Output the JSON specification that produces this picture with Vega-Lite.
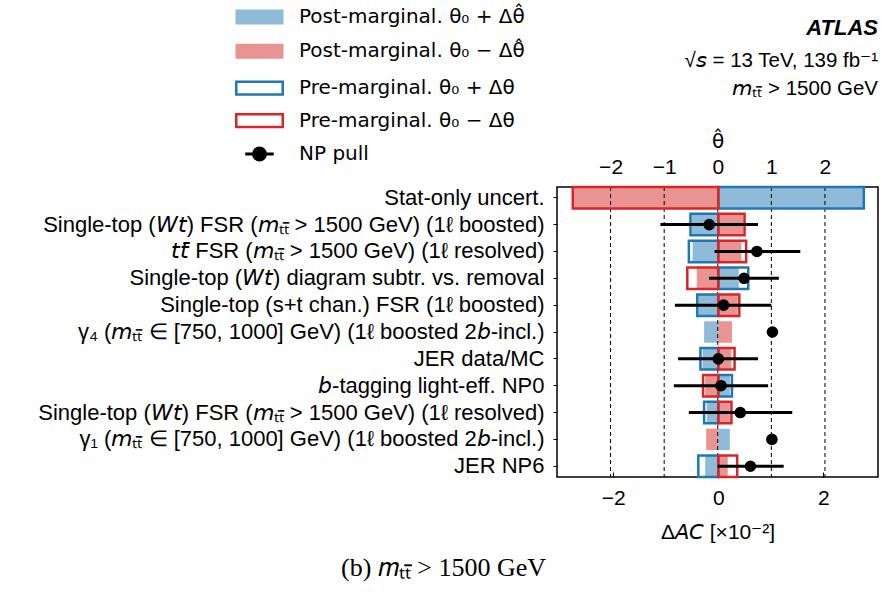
{
  "$schema": "https://vega.github.io/schema/vega-lite/v6.json",
  "autosize": {"type": "none"},
  "padding": {"left": 557, "top": 187, "right": 4, "bottom": 124},
  "width": 321,
  "height": 290,
  "config": {
    "font": "Liberation Sans",
    "view": {"stroke": "black", "strokeWidth": 1.5},
    "axis": {"labelColor": "black", "titleColor": "black", "tickColor": "black", "titleFontWeight": "normal", "grid": false, "domain": false},
    "legend": {"labelColor": "black", "labelFont": "DejaVu Sans", "labelFontSize": 20, "labelLimit": 500, "padding": 0, "title": null}
  },
  "title": {
    "text": "ATLAS",
    "subtitle": ["√\ud835\ude34 = 13 TeV, 139 fb⁻¹", "\ud835\ude2eₜₜ\u0304 > 1500 GeV"],
    "anchor": "end",
    "frame": "group",
    "fontSize": 22,
    "fontStyle": "italic",
    "fontWeight": "bold",
    "color": "black",
    "subtitleFontSize": 20.5,
    "subtitleColor": "black",
    "subtitleLineHeight": 28,
    "subtitlePadding": 11,
    "offset": -93
  },
  "data": {
    "values": [
      {"label": "Stat-only uncert.", "post_up": 2.77, "post_dn": -2.77, "pre_up": 2.77, "pre_dn": -2.77, "pull": null, "lo": null, "hi": null},
      {"label": "Single-top (\ud835\ude1e\ud835\ude35) FSR (\ud835\ude2eₜₜ\u0304 > 1500 GeV) (1ℓ boosted)", "post_up": -0.51, "post_dn": 0.48, "pre_up": -0.53, "pre_dn": 0.5, "pull": -0.16, "lo": -1.07, "hi": 0.75},
      {"label": "\ud835\ude35\ud835\ude35\u0304 FSR (\ud835\ude2eₜₜ\u0304 > 1500 GeV) (1ℓ resolved)", "post_up": -0.49, "post_dn": 0.44, "pre_up": -0.56, "pre_dn": 0.53, "pull": 0.73, "lo": -0.06, "hi": 1.54},
      {"label": "Single-top (\ud835\ude1e\ud835\ude35) diagram subtr. vs. removal", "post_up": 0.39, "post_dn": -0.41, "pre_up": 0.57, "pre_dn": -0.59, "pull": 0.49, "lo": -0.16, "hi": 1.14},
      {"label": "Single-top (s+t chan.) FSR (1ℓ boosted)", "post_up": -0.38, "post_dn": 0.37, "pre_up": -0.4, "pre_dn": 0.4, "pull": 0.11, "lo": -0.8, "hi": 1.0},
      {"label": "γ₄ (\ud835\ude2eₜₜ\u0304 ∈ [750, 1000] GeV) (1ℓ boosted 2\ud835\ude23-incl.)", "post_up": -0.27, "post_dn": 0.26, "pre_up": null, "pre_dn": null, "pull": 1.02, "lo": null, "hi": null},
      {"label": "JER data/MC", "post_up": -0.3, "post_dn": 0.25, "pre_up": -0.34, "pre_dn": 0.31, "pull": 0.01, "lo": -0.74, "hi": 0.75},
      {"label": "\ud835\ude23-tagging light-eff. NP0", "post_up": 0.22, "post_dn": -0.25, "pre_up": 0.26, "pre_dn": -0.29, "pull": 0.06, "lo": -0.82, "hi": 0.94},
      {"label": "Single-top (\ud835\ude1e\ud835\ude35) FSR (\ud835\ude2eₜₜ\u0304 > 1500 GeV) (1ℓ resolved)", "post_up": -0.22, "post_dn": 0.22, "pre_up": -0.27, "pre_dn": 0.25, "pull": 0.42, "lo": -0.54, "hi": 1.39},
      {"label": "γ₁ (\ud835\ude2eₜₜ\u0304 ∈ [750, 1000] GeV) (1ℓ boosted 2\ud835\ude23-incl.)", "post_up": 0.22, "post_dn": -0.23, "pre_up": null, "pre_dn": null, "pull": 1.01, "lo": null, "hi": null},
      {"label": "JER NP6", "post_up": -0.25, "post_dn": 0.18, "pre_up": -0.38, "pre_dn": 0.36, "pull": 0.61, "lo": 0.0, "hi": 1.23}
    ]
  },
  "encoding": {
    "y": {
      "field": "label",
      "type": "nominal",
      "scale": {
        "domain": [
          "Stat-only uncert.",
          "Single-top (\ud835\ude1e\ud835\ude35) FSR (\ud835\ude2eₜₜ\u0304 > 1500 GeV) (1ℓ boosted)",
          "\ud835\ude35\ud835\ude35\u0304 FSR (\ud835\ude2eₜₜ\u0304 > 1500 GeV) (1ℓ resolved)",
          "Single-top (\ud835\ude1e\ud835\ude35) diagram subtr. vs. removal",
          "Single-top (s+t chan.) FSR (1ℓ boosted)",
          "γ₄ (\ud835\ude2eₜₜ\u0304 ∈ [750, 1000] GeV) (1ℓ boosted 2\ud835\ude23-incl.)",
          "JER data/MC",
          "\ud835\ude23-tagging light-eff. NP0",
          "Single-top (\ud835\ude1e\ud835\ude35) FSR (\ud835\ude2eₜₜ\u0304 > 1500 GeV) (1ℓ resolved)",
          "γ₁ (\ud835\ude2eₜₜ\u0304 ∈ [750, 1000] GeV) (1ℓ boosted 2\ud835\ude23-incl.)",
          "JER NP6"
        ],
        "paddingInner": 0.2,
        "paddingOuter": 0
      },
      "axis": {
        "title": "(b) \ud835\udc5aₜₜ\u0304 > 1500 GeV",
        "titleAngle": 0,
        "titleX": -114,
        "titleY": 380,
        "titleAlign": "center",
        "titleBaseline": "middle",
        "titleFont": "Liberation Serif",
        "titleFontSize": 26,
        "labelFontSize": 22,
        "labelLimit": 600,
        "labelPadding": 9,
        "tickSize": 4
      }
    }
  },
  "layer": [
    {
      "transform": [
        {"fold": ["post_up", "post_dn"], "as": ["series", "value"]},
        {"filter": "isValid(datum.value)"}
      ],
      "mark": {"type": "bar"},
      "encoding": {
        "x": {
          "field": "value",
          "type": "quantitative",
          "scale": {"domain": [-3.07, 3.04], "nice": false, "zero": false},
          "axis": {"orient": "bottom", "values": [-2, 0, 2], "format": "d", "title": "Δ\ud835\ude08\ud835\ude0a [×10⁻²]", "titleFontSize": 21, "labelFontSize": 21, "tickSize": -5, "labelPadding": 15, "titlePadding": 13}
        },
        "x2": {"datum": 0},
        "fill": {
          "field": "series",
          "type": "nominal",
          "scale": {"domain": ["post_up", "post_dn"], "range": ["#8fbbd9", "#ea9393"]},
          "legend": {
            "orient": "none", "legendX": -307.5, "legendY": -180,
            "symbolType": "M-3.2,-1H3.2V1H-3.2Z", "symbolSize": 225, "symbolStrokeWidth": 0,
            "labelOffset": 29.5, "rowPadding": 14.2,
            "labelExpr": "datum.value == 'post_up' ? 'Post-marginal. θ₀ + Δθ\u0302' : 'Post-marginal. θ₀ − Δθ\u0302'"
          }
        }
      }
    },
    {
      "data": {"values": [{"t": -2}, {"t": -1}, {"t": 0}, {"t": 1}, {"t": 2}]},
      "mark": {"type": "rule", "color": "black", "strokeWidth": 1, "strokeDash": [4, 3]},
      "encoding": {
        "y": null,
        "x": {
          "field": "t",
          "type": "quantitative",
          "scale": {"domain": [-3, 2.99], "nice": false, "zero": false},
          "axis": {"orient": "top", "values": [-2, -1, 0, 1, 2], "format": "d", "title": "θ\u0302", "titleFont": "DejaVu Sans", "titleFontSize": 20, "labelFontSize": 21, "tickSize": -5, "labelPadding": 15, "titlePadding": 5}
        }
      }
    },
    {
      "transform": [
        {"fold": ["pre_up", "pre_dn"], "as": ["series", "value"]},
        {"filter": "isValid(datum.value)"}
      ],
      "mark": {"type": "bar", "fill": "transparent", "strokeWidth": 2.5},
      "encoding": {
        "x": {
          "field": "value",
          "type": "quantitative",
          "scale": {"domain": [-3.07, 3.04], "nice": false, "zero": false},
          "axis": null
        },
        "x2": {"datum": 0},
        "stroke": {
          "field": "series",
          "type": "nominal",
          "scale": {"domain": ["pre_up", "pre_dn"], "range": ["#1f77b4", "#d62728"]},
          "legend": {
            "orient": "none", "legendX": -307.5, "legendY": -109,
            "symbolType": "M-3.1,-0.85H3.1V0.85H-3.1Z", "symbolSize": 225, "symbolStrokeWidth": 2.5,
            "symbolFillColor": "transparent",
            "labelOffset": 29.5, "rowPadding": 8.6,
            "labelExpr": "datum.value == 'pre_up' ? 'Pre-marginal. θ₀ + Δθ' : 'Pre-marginal. θ₀ − Δθ'",
            "encode": {"symbols": {"update": {"fill": {"value": "transparent"}, "strokeWidth": {"value": 2.5}}}}
          }
        }
      }
    },
    {
      "layer": [
        {
          "mark": {"type": "rule", "color": "black", "strokeWidth": 3},
          "encoding": {
            "x": {"field": "lo", "type": "quantitative", "scale": {"domain": [-3, 2.99], "nice": false, "zero": false}, "axis": null},
            "x2": {"field": "hi"}
          }
        },
        {
          "mark": {"type": "circle", "size": 135, "opacity": 1},
          "encoding": {
            "x": {"field": "pull", "type": "quantitative", "scale": {"domain": [-3, 2.99], "nice": false, "zero": false}, "axis": null},
            "color": {
              "datum": "NP pull",
              "type": "nominal",
              "scale": {"range": ["black"]},
              "legend": {
                "orient": "none", "legendX": -307.5, "legendY": -43,
                "symbolType": "M-1.9,0H1.9M0.8,0A0.8,0.8,0,1,1,-0.8,0A0.8,0.8,0,1,1,0.8,0Z", "symbolSize": 225,
                "symbolStrokeWidth": 3, "symbolStrokeColor": "black", "symbolFillColor": "black",
                "labelOffset": 29.5,
                "encode": {"symbols": {"update": {"stroke": {"value": "black"}, "strokeWidth": {"value": 3}, "fill": {"value": "black"}}}}
              }
            }
          }
        }
      ]
    }
  ],
  "resolve": {"scale": {"x": "independent"}, "axis": {"x": "independent"}}
}
